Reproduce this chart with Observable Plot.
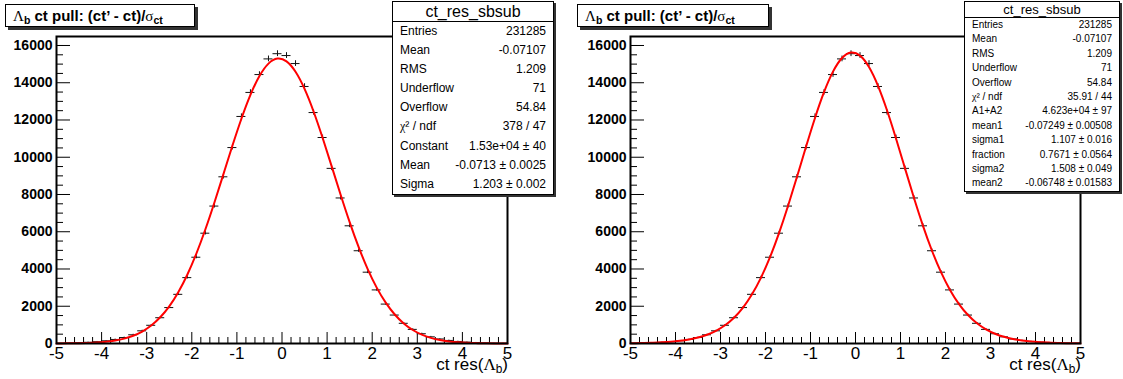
<!DOCTYPE html>
<html><head><meta charset="utf-8">
<script src="https://cdn.jsdelivr.net/npm/d3@7"></script>
<script src="https://cdn.jsdelivr.net/npm/@observablehq/plot@0.6"></script>
<style>
body{margin:0;background:#fff;}
#root{position:relative;width:1123px;height:379px;overflow:hidden;font-family:"Liberation Sans",Arial,sans-serif;color:#000;}
.panel{position:absolute;top:0;}
.title{position:absolute;background:#fff;border:1px solid #000;box-shadow:3px 3px 0 #333;font-weight:bold;font-size:15px;white-space:nowrap;box-sizing:border-box;padding-left:7px;line-height:21px;}
.sym{font-family:"Liberation Serif","DejaVu Serif",serif;font-weight:normal;}
.sub{font-size:70%;vertical-align:-3px;line-height:0;}
.stats{position:absolute;background:#fff;border:1px solid #000;box-shadow:2px 2px 0 #333;box-sizing:border-box;white-space:nowrap;}
.stats .hdr{text-align:center;border-bottom:1px solid #000;}
.stats .row{display:flex;justify-content:space-between;padding:0 7px;overflow:hidden;}
.xtitle{position:absolute;font-size:17px;white-space:nowrap;text-align:right;}
</style></head>
<body><div id="root"></div>
<script>
// ---- data ----
const binCenters = [-4.9,-4.7,-4.5,-4.3,-4.1,-3.9,-3.7,-3.5,-3.3,-3.1,-2.9,-2.7,-2.5,-2.3,-2.1,-1.9,-1.7,-1.5,-1.3,-1.1,-0.9,-0.7,-0.5,-0.3,-0.1,0.1,0.3,0.5,0.7,0.9,1.1,1.3,1.5,1.7,1.9,2.1,2.3,2.5,2.7,2.9,3.1,3.3,3.5,3.7,3.9,4.1,4.3,4.5,4.7,4.9];
const counts = [18,27,42,64,97,145,217,320,468,681,978,1384,1929,2640,3537,4632,5922,7379,8950,10520,12190,13480,14440,15280,15560,15460,15030,13800,12400,11060,9403,7814,6319,4980,3829,2877,2116,1527,1084,758,524,358,243,164,109,73,48,31,20,13];
const errors = [5,6,8,10,12,15,18,22,27,33,39,46,55,64,74,85,96,107,118,128,138,145,150,155,156,155,153,147,139,131,121,110,99,88,77,67,57,49,41,34,29,24,19,16,13,11,9,7,6,5];
const fitX = [-5,-4.9,-4.7,-4.5,-4.3,-4.1,-3.9,-3.7,-3.5,-3.3,-3.1,-2.9,-2.7,-2.5,-2.3,-2.1,-1.9,-1.7,-1.5,-1.3,-1.1,-0.9,-0.7,-0.5,-0.3,-0.1,0.1,0.3,0.5,0.7,0.9,1.1,1.3,1.5,1.7,1.9,2.1,2.3,2.5,2.7,2.9,3.1,3.3,3.5,3.7,3.9,4.1,4.3,4.5,4.7,4.9,5];
const gausFit = [4,5,9,17,32,56,97,162,263,418,643,964,1406,1993,2751,3691,4819,6119,7559,9082,10615,12068,13347,14359,15026,15296,15146,14588,13668,12457,11044,9524,7990,6520,5175,3996,3001,2193,1558,1077,725,474,302,187,112,66,37,21,11,6,3,2];
const doubleGausFit = [14,18,27,42,64,97,145,217,320,468,681,978,1384,1929,2640,3537,4632,5922,7379,8950,10560,12110,13491,14595,15327,15623,15456,14842,13833,12521,11006,9403,7814,6319,4980,3829,2877,2116,1527,1084,758,524,358,243,164,109,73,48,31,20,13,10];
const xMajor = [-5,-4,-3,-2,-1,0,1,2,3,4,5];
const xMinor = [-4.8,-4.6,-4.4,-4.2,-3.8,-3.6,-3.4,-3.2,-2.8,-2.6,-2.4,-2.2,-1.8,-1.6,-1.4,-1.2,-0.8,-0.6,-0.4,-0.2,0.2,0.4,0.6,0.8,1.2,1.4,1.6,1.8,2.2,2.4,2.6,2.8,3.2,3.4,3.6,3.8,4.2,4.4,4.6,4.8];
const yMajor = [0,2000,4000,6000,8000,10000,12000,14000,16000];
const yMinor = [500,1000,1500,2500,3000,3500,4500,5000,5500,6500,7000,7500,8500,9000,9500,10500,11000,11500,12500,13000,13500,14500,15000,15500,16000];
const yMax = 16483;
const histName = "ct_res_sbsub";
const statsLeftLabels = ["Entries","Mean","RMS","Underflow","Overflow","χ² / ndf","Constant","Mean","Sigma"];
const statsLeftValues = ["231285","-0.07107","1.209","71","54.84","378 / 47","1.53e+04 ± 40","-0.0713 ± 0.0025","1.203 ± 0.002"];
const statsRightLabels = ["Entries","Mean","RMS","Underflow","Overflow","χ² / ndf","A1+A2","mean1","sigma1","fraction","sigma2","mean2"];
const statsRightValues = ["231285","-0.07107","1.209","71","54.84","35.91 / 44","4.623e+04 ± 97","-0.07249 ± 0.00508","1.107 ± 0.016","0.7671 ± 0.0564","1.508 ± 0.049","-0.06748 ± 0.01583"];

const bins = binCenters.map((x,i)=>({x, c:counts[i], e:errors[i]}));
const binW = 0.2;

function panel(fitY, ml, mr, W){
  const H = 379, mt = 36, mb = 36;
  const pw = W - ml - mr, ph = H - mt - mb;
  const fit = fitX.map((x,i)=>({x, y:fitY[i]}));
  return Plot.plot({
    width: W, height: H, marginLeft: ml, marginRight: mr, marginTop: mt, marginBottom: mb,
    x: {domain: [-5,5], axis: null},
    y: {domain: [0, yMax], axis: null},
    style: {fontFamily: "Liberation Sans, Arial, sans-serif", background: "transparent", overflow: "visible", color:"#000"},
    marks: [
      Plot.tickX(xMinor, {x: d=>d, insetTop: ph-6, stroke:"#000"}),
      Plot.tickX(xMajor, {x: d=>d, insetTop: ph-11, stroke:"#000"}),
      Plot.tickY(yMinor, {y: d=>d, insetRight: pw-7, stroke:"#000"}),
      Plot.tickY(yMajor, {y: d=>d, insetRight: pw-14, stroke:"#000"}),
      Plot.ruleY(bins, {y: "c", x1: d=>d.x-binW/2, x2: d=>d.x+binW/2, stroke:"#111", strokeWidth:1}),
      Plot.ruleX(bins, {x: "x", y1: d=>d.c-d.e, y2: d=>d.c+d.e, stroke:"#111", strokeWidth:1}),
      Plot.line(fit, {x:"x", y:"y", stroke:"#ff0000", strokeWidth:2, curve:"natural"}),
      Plot.frame({stroke:"#000", strokeWidth:2}),
      Plot.text(yMajor, {y: d=>d, text: d=>String(d), frameAnchor:"left", textAnchor:"end", dx:-4, fontWeight:"bold", fontSize:14, fill:"#000"}),
      Plot.text(xMajor, {x: d=>d, text: d=>String(d), frameAnchor:"bottom", lineAnchor:"top", dy:3, fontSize:17, fill:"#000"})
    ]
  });
}

const root = document.getElementById("root");
function place(el, left){ el.classList.add("panel"); el.style.left = left+"px"; root.appendChild(el); }
place(panel(gausFit, 56, 54, 561), 0);
place(panel(doubleGausFit, 68, 43, 561), 562);

function title(left, w){
  const d = document.createElement("div");
  d.className = "title";
  d.style.left = left+"px"; d.style.top = "4px"; d.style.width = w+"px"; d.style.height = "23px";
  d.innerHTML = '<span class="sym">Λ</span><span class="sub">b</span> ct pull: (ct’ - ct)/<span class="sym">σ</span><span class="sub">ct</span>';
  root.appendChild(d);
}
title(5, 190);
title(577, 192);

function xtitle(right){
  const d = document.createElement("div");
  d.className = "xtitle";
  d.style.left = (right-140)+"px"; d.style.width = "140px"; d.style.top = "355px";
  d.innerHTML = 'ct res(<span class="sym">Λ</span><span class="sub">b</span>)';
  root.appendChild(d);
}
xtitle(508);
xtitle(1081);

function stats(left, top, w, hdrH, hdrFont, rowH, rowFont, labels, values){
  const d = document.createElement("div");
  d.className = "stats";
  d.style.left = left+"px"; d.style.top = top+"px"; d.style.width = w+"px";
  let html = `<div class="hdr" style="height:${hdrH}px;line-height:${hdrH}px;font-size:${hdrFont}px">${histName}</div>`;
  labels.forEach((l,i)=>{
    const lab = l.replace("χ", '<span class="sym">χ</span>');
    html += `<div class="row" style="height:${rowH}px;line-height:${rowH}px;font-size:${rowFont}px"><span>${lab}</span><span>${values[i]}</span></div>`;
  });
  d.innerHTML = html;
  root.appendChild(d);
}
stats(392, 1, 162, 19, 16, 19.1, 12, statsLeftLabels, statsLeftValues);
stats(964, 1, 156, 15, 13, 14.4, 10, statsRightLabels, statsRightValues);
</script>
</body></html>
